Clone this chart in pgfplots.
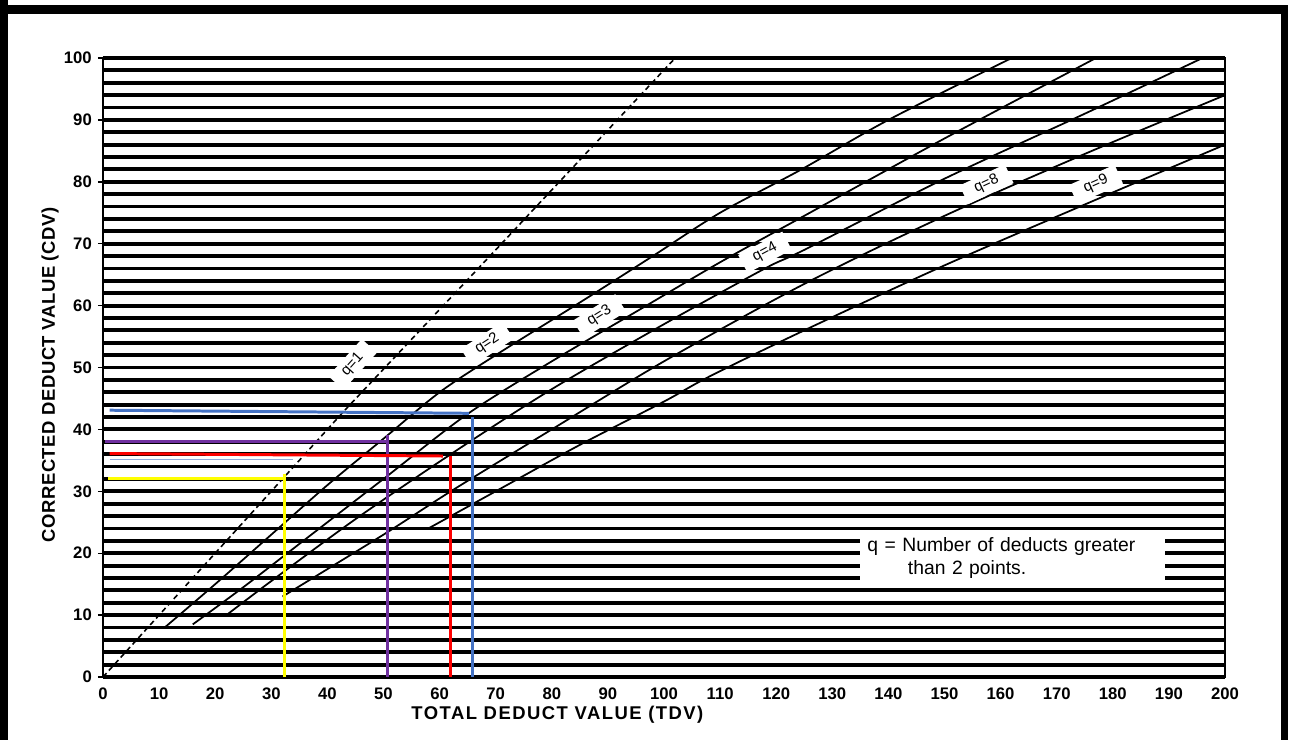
\documentclass[border=0pt]{standalone}
\usepackage{fontspec}
\setmainfont{Liberation Sans}
\usepackage{pgfplots}
\pgfplotsset{compat=1.18}
\definecolor{ppl}{HTML}{7030A0}
\definecolor{blu}{HTML}{4472C4}
\definecolor{ylw}{HTML}{FFFF00}
\begin{document}
\begin{tikzpicture}[x=1cm,y=1cm]
\path[use as bounding box] (-2.06,-1.26) rectangle (23.86,13.54);
\fill[black] (-2.06,-1.26) rectangle (-1.90,13.54);
\fill[black] (-2.06,13.26) rectangle (23.68,13.44);
\fill[black] (23.56,-1.26) rectangle (23.70,13.44);
\begin{axis}[
  at={(0,0)}, anchor=south west,
  scale only axis, width=22.44cm, height=12.38cm,
  xmin=0, xmax=200, ymin=0, ymax=100,
  xtick={0,10,...,200}, ytick={0,10,...,100},
  minor ytick={0,2,...,100},
  ymajorgrids, yminorgrids,
  major grid style={black, line width=2.2pt},
  minor grid style={black, line width=2.2pt},
  axis line style={black, line width=0.8pt},
  xtick style={draw=none},
  ytick style={black, line width=0.8pt},
  major tick length=0.2cm, minor tick length=0pt, tick align=center,
  ytick pos=left,
  /pgf/number format/assume math mode=true,
  ticklabel style={font=\bfseries\fontsize{9.5}{10}\selectfont},
  xlabel={TOTAL DEDUCT VALUE (TDV)},
  ylabel={CORRECTED DEDUCT VALUE (CDV)},
  xlabel style={at={(axis description cs:0.405,-0.0614)}, anchor=center, font=\bfseries\fontsize{10.5}{12}\selectfont\addfontfeatures{LetterSpace=8}},
  ylabel style={at={(axis description cs:-0.0472,0.488)}, anchor=center, font=\bfseries\fontsize{10.5}{12}\selectfont\addfontfeatures{LetterSpace=3}},
  clip=true,
]
% q = 1
\addplot[black, line width=0.9pt, densely dashed] coordinates {(0,0)(20,20)(43,43)(70,69)(102,100)};
% q = 2
\addplot[black, line width=1pt, smooth] coordinates {(11,8)(20,15)(30,23)(40,31)(50,38.5)(60,46)(70,52)(85,60.5)(98,68)(110,75)(124.5,82)(140,90)(162,100)};
% q = 3
\addplot[black, line width=1pt, smooth] coordinates {(16,8.5)(25,14.5)(35,21.5)(50,32)(65,42.5)(80,51)(95,59)(110,67)(125,74.5)(150,87)(177,100)};
% q = 4
\addplot[black, line width=1pt, smooth] coordinates {(22,10)(30,15.5)(45,25.5)(62,36)(80,46.5)(100,57)(118,66)(125,69)(150,80.5)(175,91)(196,100)};
% q = 8
\addplot[black, line width=1pt, smooth] coordinates {(32,13)(50,23)(62,30)(80,40)(100,51)(125,63.5)(150,74.5)(175,84.5)(200,94)};
% q = 9
\addplot[black, line width=1pt, smooth] coordinates {(58,24)(70,30)(85,37.5)(100,44.5)(108,48.5)(125,56)(150,66.5)(178,77.5)(200,86)};
% coloured reading lines
\addplot[ylw, line width=1.7pt] coordinates {(0.9,32.1)(32.4,32.1)};
\addplot[ylw, line width=1.7pt] coordinates {(32.4,32.8)(32.4,0)};
\addplot[ppl, line width=1.7pt] coordinates {(0.4,38.1)(50.8,38.1)};
\addplot[ppl, line width=1.7pt] coordinates {(50.8,39.1)(50.8,0)};
\addplot[red, line width=1.7pt] coordinates {(1.2,36.1)(60.6,35.7)};
\addplot[red, line width=1.7pt] coordinates {(62,35.7)(62,0)};
\addplot[blu!60, line width=0.6pt] coordinates {(1.2,35.2)(33.9,35.2)};
\addplot[blu, line width=1.7pt] coordinates {(1.2,43.1)(65.2,42.6)};
\addplot[blu, line width=1.7pt] coordinates {(65.8,42)(65.8,0)};
% curve labels
\node[fill=white, rotate=48, inner xsep=7pt, inner ysep=2pt, font=\fontsize{8.5}{9}\selectfont] at (axis cs:44.5,50.5) {q=1};
\node[fill=white, rotate=33, inner xsep=7pt, inner ysep=2pt, font=\fontsize{8.5}{9}\selectfont] at (axis cs:68.5,53.8) {q=2};
\node[fill=white, rotate=32, inner xsep=7pt, inner ysep=2pt, font=\fontsize{8.5}{9}\selectfont] at (axis cs:88.5,58.3) {q=3};
\node[fill=white, rotate=28, inner xsep=7pt, inner ysep=2pt, font=\fontsize{8.5}{9}\selectfont] at (axis cs:118,68.6) {q=4};
\node[fill=white, rotate=25, inner xsep=7pt, inner ysep=2pt, font=\fontsize{8.5}{9}\selectfont] at (axis cs:157.5,79.6) {q=8};
\node[fill=white, rotate=24, inner xsep=7pt, inner ysep=2pt, font=\fontsize{8.5}{9}\selectfont] at (axis cs:177,79.6) {q=9};
% note
\node[fill=white, minimum width=6.1cm, minimum height=1.0cm, text width=5.8cm, align=left, font=\fontsize{11}{13}\selectfont] at (axis cs:162.1,19.2) {q = Number of deducts greater\\\hspace*{2.1em}than 2 points.};
% title
\node[anchor=east, font=\bfseries\fontsize{12}{14}\selectfont] at (axis description cs:1.006,1.045) {ROADS AND PARKING LOTS:\ \ CONCRETE};
\end{axis}
\end{tikzpicture}
\end{document}
